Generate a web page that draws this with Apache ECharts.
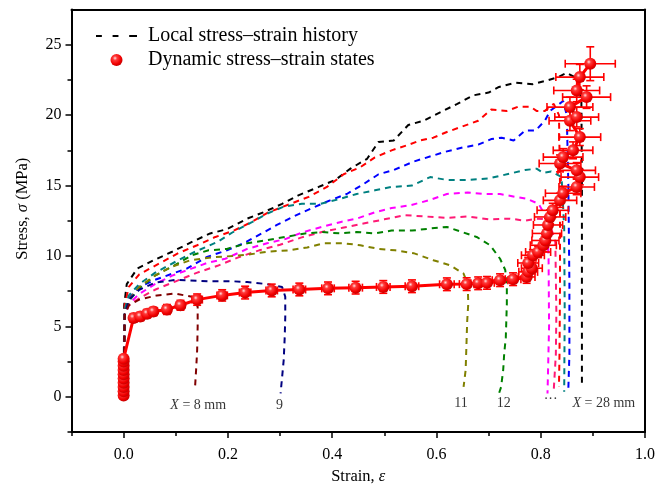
<!DOCTYPE html>
<html><head><meta charset="utf-8">
<script src="https://cdn.jsdelivr.net/npm/echarts@6/dist/echarts.min.js"></script>
<style>html,body{margin:0;padding:0;background:#fff}#c{width:668px;height:486px}</style>
</head><body><div id="c"></div>
<script>
// ---- tick labels ----
const xMajor = [0, 0.2, 0.4, 0.6, 0.8, 1.0];
const xMinor = [-0.1, 0.1, 0.3, 0.5, 0.7, 0.9];
const yMajor = [0, 5, 10, 15, 20, 25];
const yMinor = [-2.5, 2.5, 7.5, 12.5, 17.5, 22.5];

// ---- local stress-strain histories (strain, stress) ----
const curveNames = ['X28', 'red', 'blue', 'teal', 'magenta', 'deeppink', 'green', 'olive', 'navy', 'darkred'];
const curveX28 = [[0,0],[0.001,6.5],[0.006,8.0],[0.026,9.1],[0.058,9.7],[0.093,10.3],[0.131,11.0],[0.166,11.6],[0.198,11.9],[0.237,12.65],[0.268,13.1],[0.304,13.7],[0.335,14.3],[0.374,14.9],[0.406,15.4],[0.435,16.2],[0.467,16.9],[0.489,18.1],[0.518,18.2],[0.546,19.3],[0.575,19.6],[0.607,20.2],[0.64,20.8],[0.67,21.4],[0.70,21.6],[0.72,22.0],[0.751,22.3],[0.785,22.2],[0.812,22.46],[0.833,22.7],[0.85,23.0],[0.87,22.6],[0.878,21],[0.879,15],[0.879,8],[0.879,0.8]];
const curveRed = [[0,0],[0.002,6.5],[0.01,7.8],[0.03,8.7],[0.07,9.5],[0.105,10.2],[0.141,10.76],[0.176,11.35],[0.211,11.8],[0.245,12.4],[0.278,13.1],[0.32,13.7],[0.355,14.2],[0.39,14.9],[0.422,15.8],[0.454,16.3],[0.482,17.0],[0.514,17.5],[0.543,17.85],[0.569,18.2],[0.594,18.4],[0.62,18.8],[0.65,19.2],[0.68,19.6],[0.705,20.4],[0.735,20.3],[0.757,20.6],[0.78,20.6],[0.792,20.3],[0.808,20.3],[0.825,20.8],[0.835,20.0],[0.837,15],[0.837,8],[0.836,3],[0.835,0.7]];
const curveBlue = [[0,0],[0.002,6.0],[0.01,7.0],[0.03,7.8],[0.06,8.3],[0.09,8.7],[0.121,9.1],[0.16,9.93],[0.198,10.4],[0.23,10.9],[0.265,11.6],[0.294,12.2],[0.326,12.8],[0.361,13.4],[0.396,13.95],[0.428,14.4],[0.46,15.1],[0.489,15.8],[0.518,16.1],[0.556,16.7],[0.591,17.1],[0.617,17.4],[0.65,17.7],[0.68,17.9],[0.705,18.3],[0.725,18.4],[0.748,18.2],[0.77,18.9],[0.79,18.9],[0.808,19.6],[0.818,20.3],[0.843,21.0],[0.85,20.0],[0.853,15],[0.855,8],[0.855,3],[0.853,0.6]];
const curveTeal = [[0,0],[0.002,6.2],[0.01,7.2],[0.03,8.0],[0.06,8.8],[0.1,9.6],[0.137,10.3],[0.18,11.0],[0.21,11.7],[0.246,12.4],[0.275,13.0],[0.307,13.5],[0.342,13.7],[0.377,13.7],[0.41,14.0],[0.447,14.4],[0.482,14.66],[0.514,14.9],[0.553,15.0],[0.588,15.6],[0.62,15.4],[0.66,15.4],[0.7,15.5],[0.741,15.85],[0.77,16.1],[0.792,16.2],[0.805,15.9],[0.82,16.0],[0.84,15.6],[0.845,12],[0.846,6],[0.845,0.35]];
const curveMagenta = [[0,0],[0.002,5.8],[0.01,6.6],[0.03,7.3],[0.06,8.0],[0.093,8.6],[0.13,9.1],[0.16,9.5],[0.195,9.8],[0.237,10.5],[0.275,10.9],[0.31,11.2],[0.345,11.7],[0.38,12.06],[0.415,12.4],[0.447,12.65],[0.482,13.1],[0.514,13.4],[0.55,13.6],[0.585,13.95],[0.62,14.4],[0.66,14.5],[0.69,14.4],[0.722,14.4],[0.751,14.2],[0.773,14.07],[0.796,13.7],[0.81,12.8],[0.815,10],[0.816,5],[0.813,0.24]];
const curveDeepPink = [[0,0],[0.002,5.8],[0.01,6.5],[0.03,7.0],[0.06,7.6],[0.1,8.2],[0.14,8.8],[0.18,9.3],[0.22,9.9],[0.26,10.4],[0.3,10.8],[0.34,11.3],[0.38,11.7],[0.42,12.0],[0.46,12.3],[0.5,12.6],[0.54,12.9],[0.58,12.8],[0.62,12.7],[0.66,12.8],[0.7,12.6],[0.741,12.65],[0.77,12.5],[0.792,12.65],[0.815,12.6],[0.828,11],[0.83,6],[0.829,3],[0.825,0.5]];
const curveGreen = [[0,0],[0.002,5.8],[0.01,6.8],[0.03,7.7],[0.06,8.6],[0.096,9.3],[0.131,10.05],[0.163,10.4],[0.198,10.5],[0.237,10.9],[0.272,11.1],[0.31,11.35],[0.348,11.6],[0.38,11.7],[0.415,11.6],[0.447,11.7],[0.482,11.6],[0.514,11.8],[0.553,11.8],[0.588,11.95],[0.62,12.06],[0.649,11.7],[0.677,11.35],[0.703,10.76],[0.722,9.8],[0.732,9.0],[0.735,7.8],[0.735,6.6],[0.734,5.4],[0.733,4.2],[0.73,3.1],[0.728,1.9],[0.724,0.7],[0.72,0.24]];
const curveOlive = [[0,0],[0.002,5.8],[0.01,6.9],[0.03,7.8],[0.06,8.6],[0.09,9.2],[0.128,9.7],[0.17,9.9],[0.21,10.0],[0.24,10.1],[0.275,10.3],[0.316,10.4],[0.352,10.6],[0.383,10.9],[0.422,10.9],[0.454,10.76],[0.489,10.5],[0.521,10.4],[0.556,10.2],[0.594,9.7],[0.626,9.34],[0.652,8.75],[0.66,8.0],[0.661,6.6],[0.659,5.4],[0.658,4.26],[0.656,1.9],[0.652,0.7]];
const curveNavy = [[0,0],[0.002,5.8],[0.01,6.9],[0.03,7.6],[0.06,8.1],[0.1,8.3],[0.166,8.2],[0.21,8.2],[0.237,8.15],[0.275,8.0],[0.304,7.8],[0.31,7.1],[0.31,5.67],[0.309,4.26],[0.307,2.6],[0.304,1.42],[0.301,0.24]];
const curveDarkRed = [[0,0],[0.002,5.8],[0.01,6.5],[0.03,6.9],[0.064,7.2],[0.099,7.33],[0.131,7.1],[0.142,6.4],[0.142,5.0],[0.141,3.3],[0.139,1.9],[0.137,0.7]];
const curveColors = ['#000000','#ff0000','#0000ff','#008080','#ff00ff','#ff1a75','#008000','#808000','#000080','#800000'];
const curves = [curveX28, curveRed, curveBlue, curveTeal, curveMagenta, curveDeepPink, curveGreen, curveOlive, curveNavy, curveDarkRed];

// ---- dynamic stress-strain states ----
const dynStrain = [0,0,0,0,0,0,0,0,0,0,
  0.019,0.032,0.045,0.057,0.083,0.109,0.141,0.189,0.233,0.284,0.337,0.392,0.445,0.498,0.553,0.62,0.658,0.68,0.697,0.722,0.747,0.773,
  0.776,0.783,0.776,0.785,0.795,0.805,0.809,0.812,0.814,0.818,0.823,0.837,0.843,0.869,0.875,0.869,0.837,0.843,0.862,0.875,0.856,0.869,0.856,0.888,0.869,0.875,0.895];
const dynStress = [0.1,0.4,0.7,1.0,1.3,1.6,1.9,2.2,2.5,2.7,
  5.6,5.7,5.9,6.05,6.2,6.5,6.9,7.2,7.4,7.55,7.62,7.7,7.75,7.8,7.85,7.99,8.0,8.06,8.09,8.28,8.35,8.51,
  8.87,9.13,9.5,10.05,10.28,10.76,11.1,11.6,12.2,12.77,13.24,13.95,14.45,14.9,15.6,16.08,16.57,17.02,17.5,18.44,19.6,19.86,20.57,21.28,21.75,22.7,23.65];
const dynStrainErr = [0.002,0.002,0.002,0.002,0.002,0.002,0.002,0.002,0.002,0.002,
  0.006,0.006,0.007,0.007,0.008,0.008,0.01,0.01,0.011,0.011,0.012,0.012,0.013,0.013,0.013,0.014,0.014,0.014,0.014,0.015,0.015,0.016,
  0.018,0.02,0.02,0.022,0.024,0.025,0.026,0.028,0.028,0.03,0.03,0.032,0.034,0.034,0.036,0.036,0.04,0.038,0.038,0.04,0.04,0.042,0.044,0.046,0.044,0.046,0.048];
const dynStressErr = [0.1,0.1,0.1,0.1,0.1,0.1,0.1,0.1,0.1,0.1,
  0.3,0.3,0.3,0.3,0.35,0.35,0.4,0.4,0.45,0.45,0.45,0.45,0.45,0.45,0.45,0.45,0.45,0.45,0.45,0.45,0.45,0.45,
  0.4,0.4,0.4,0.4,0.4,0.45,0.45,0.45,0.45,0.5,0.5,0.5,0.5,0.55,0.55,0.55,0.6,0.6,0.6,0.6,0.7,0.7,0.7,0.8,0.8,0.9,1.2];

// ---- annotations ----
const annoStrain = [0.143, 0.299, 0.647, 0.729, 0.819, 0.921];
const annoStress = [-0.6, -0.6, -0.45, -0.45, -0.15, -0.45];
const annoText = ['{i|X} = 8 mm', '9', '11', '12', '···', '{i|X} = 28 mm'];

const FONT = '"Liberation Serif", "Times New Roman", serif';
const legendLocal = 'Local stress–strain history';
const legendDyn = 'Dynamic stress–strain states';

const ball = {
  type: 'radial', x: 0.38, y: 0.35, r: 0.7,
  colorStops: [{offset: 0, color: '#ffe0e0'}, {offset: 0.25, color: '#ff3a3a'}, {offset: 0.7, color: '#f00000'}, {offset: 1, color: '#c00000'}]
};

const series = [];
curves.forEach((c, i) => {
  series.push({
    name: i === 0 ? legendLocal : curveNames[i],
    type: 'line', data: c, symbol: 'none', z: 2,
    lineStyle: {color: curveColors[i], width: 2, type: [6, 5]},
    itemStyle: {color: curveColors[i]}
  });
});
const dynData = dynStrain.map((x, i) => [x, dynStress[i]]);
const errData = dynStrain.map((x, i) => [x, dynStress[i], dynStrainErr[i], dynStressErr[i]]);
series.push({
  name: 'err', type: 'custom', z: 4, data: errData,
  renderItem: function (params, api) {
    const x = api.value(0), y = api.value(1), ex = api.value(2), ey = api.value(3);
    const l = api.coord([x - ex, y]), r = api.coord([x + ex, y]);
    const t = api.coord([x, y + ey]), b = api.coord([x, y - ey]);
    const cap = 4;
    const st = {stroke: '#ff0000', lineWidth: 1.6};
    return {type: 'group', children: [
      {type: 'line', shape: {x1: l[0], y1: l[1], x2: r[0], y2: r[1]}, style: st},
      {type: 'line', shape: {x1: t[0], y1: t[1], x2: b[0], y2: b[1]}, style: st},
      {type: 'line', shape: {x1: l[0], y1: l[1] - cap, x2: l[0], y2: l[1] + cap}, style: st},
      {type: 'line', shape: {x1: r[0], y1: r[1] - cap, x2: r[0], y2: r[1] + cap}, style: st},
      {type: 'line', shape: {x1: t[0] - cap, y1: t[1], x2: t[0] + cap, y2: t[1]}, style: st},
      {type: 'line', shape: {x1: b[0] - cap, y1: b[1], x2: b[0] + cap, y2: b[1]}, style: st}
    ]};
  }
});
series.push({
  name: legendDyn, type: 'line', data: dynData, z: 5,
  symbol: 'circle', symbolSize: 12, showAllSymbol: true,
  lineStyle: {color: '#ff0000', width: 3},
  itemStyle: {color: ball}
});
series.push({
  name: 'anno', type: 'scatter', z: 6, symbolSize: 0, silent: true,
  data: annoStrain.map((x, i) => ({value: [x, annoStress[i]], label: {formatter: annoText[i]}})),
  label: {show: true, position: 'inside', color: '#000', fontFamily: FONT, fontSize: 14,
    rich: {i: {fontStyle: 'italic', fontFamily: FONT, fontSize: 14, color: '#000'}}}
});

const chart = echarts.init(document.getElementById('c'), null, {renderer: 'canvas'});
const axisLine = {show: true, onZero: false, lineStyle: {color: '#000', width: 2}};
const dashIcon = 'path://M0 0H6V2H0Z M17 0H23V2H17Z M34 0H42V2H34Z';
chart.setOption({
  animation: false,
  backgroundColor: '#fff',
  grid: {left: 71.5, right: 23, top: 9.5, bottom: 54, containLabel: false, outerBoundsMode: 'none'},
  legend: {
    data: [{name: legendLocal, icon: dashIcon, itemWidth: 41, itemHeight: 2.5, itemStyle: {color: '#000'}},
           {name: legendDyn, icon: 'circle', itemWidth: 13, itemHeight: 13}],
    orient: 'vertical', left: 91, top: 21, itemWidth: 41, itemHeight: 12, itemGap: 4,
    textStyle: {fontFamily: FONT, fontSize: 20, color: '#000', padding: [0, 0, 0, 6]},
    selectedMode: false
  },
  xAxis: [
    {type: 'value', min: -0.1, max: 1.0, position: 'bottom',
      axisLine: axisLine, splitLine: {show: false},
      axisTick: {show: true, customValues: xMajor, length: 6, lineStyle: {width: 1.5, color: '#000'}},
      axisLabel: {customValues: xMajor, formatter: v => v.toFixed(1), fontFamily: FONT, fontSize: 16, color: '#000', margin: 15},
      name: 'Strain, {i|ε}', nameLocation: 'middle', nameGap: 36,
      nameTextStyle: {fontFamily: FONT, fontSize: 16.5, color: '#000', rich: {i: {fontStyle: 'italic', fontFamily: FONT, fontSize: 16.5}}}},
    {type: 'value', min: -0.1, max: 1.0, position: 'bottom',
      axisLine: {show: false, onZero: false}, splitLine: {show: false},
      axisTick: {show: true, customValues: xMinor, length: 4, lineStyle: {width: 1.5, color: '#000'}},
      axisLabel: {show: false}},
    {type: 'value', min: -0.1, max: 1.0, position: 'top',
      axisLine: axisLine, axisTick: {show: false}, axisLabel: {show: false}, splitLine: {show: false}}
  ],
  yAxis: [
    {type: 'value', min: -2.5, max: 27.5, position: 'left',
      axisLine: axisLine, splitLine: {show: false},
      axisTick: {show: true, customValues: yMajor, length: 6, lineStyle: {width: 1.5, color: '#000'}},
      axisLabel: {customValues: yMajor, fontFamily: FONT, fontSize: 16, color: '#000', margin: 10},
      name: 'Stress, {i|σ} (MPa)', nameLocation: 'middle', nameGap: 40,
      nameTextStyle: {fontFamily: FONT, fontSize: 16.5, color: '#000', padding: [0, 0, 0, 24], rich: {i: {fontStyle: 'italic', fontFamily: FONT, fontSize: 16.5}}}},
    {type: 'value', min: -2.5, max: 27.5, position: 'left',
      axisLine: {show: false, onZero: false}, splitLine: {show: false},
      axisTick: {show: true, customValues: yMinor, length: 4, lineStyle: {width: 1.5, color: '#000'}},
      axisLabel: {show: false}},
    {type: 'value', min: -2.5, max: 27.5, position: 'right',
      axisLine: axisLine, axisTick: {show: false}, axisLabel: {show: false}, splitLine: {show: false}}
  ],
  series: series
});
</script></body></html>
